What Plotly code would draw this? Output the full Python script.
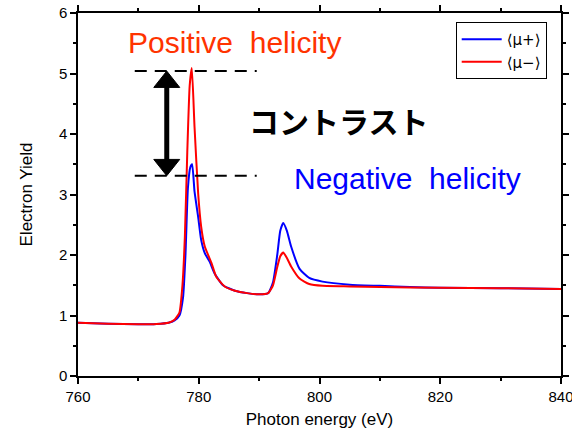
import plotly.graph_objects as go

# ---- data ----
energy_plus = [760, 765, 770, 773, 775, 776, 776.8, 777.4, 777.8, 778.2, 778.6, 778.9,
               779.3, 779.9, 780.4, 781.0, 781.8, 782.6, 784.0, 786.0, 788.0, 790.0,
               791.5, 792.3, 793.0, 793.5, 794.0, 794.6, 795.3, 796.7, 798.3, 800.5,
               805, 810, 815, 820, 830, 840]
yield_plus = [0.88, 0.865, 0.855, 0.86, 0.88, 0.92, 1.0, 1.3, 2.0, 3.1, 3.45, 3.50,
              3.05, 2.63, 2.25, 2.03, 1.89, 1.70, 1.50, 1.41, 1.37, 1.35,
              1.37, 1.55, 2.0, 2.4, 2.53, 2.40, 2.14, 1.77, 1.62, 1.56,
              1.51, 1.49, 1.47, 1.46, 1.45, 1.44]

energy_minus = [760, 765, 770, 773, 775, 776, 776.8, 777.3, 777.7, 778.1, 778.5, 778.85,
                779.3, 779.9, 780.4, 781.0, 782.1, 782.9, 784.3, 786.0, 788.0, 790.0,
                791.5, 792.3, 793.0, 793.5, 794.0, 794.6, 795.3, 796.7, 798.3, 800.5,
                805, 810, 820, 830, 840]
yield_minus = [0.88, 0.865, 0.855, 0.86, 0.88, 0.93, 1.05, 1.5, 2.3, 3.7, 4.8, 5.09,
               4.12, 3.02, 2.47, 2.14, 1.87, 1.64, 1.48, 1.41, 1.37, 1.35,
               1.37, 1.50, 1.80, 1.98, 2.04, 1.95, 1.81, 1.61, 1.52, 1.49,
               1.48, 1.47, 1.46, 1.45, 1.44]

series_names = ["⟨μ+⟩", "⟨μ−⟩"]
x_ticks = [760, 780, 800, 820, 840]
y_ticks = [0, 1, 2, 3, 4, 5, 6]

# contrast marker levels
level_hi = 5.04
level_lo = 3.31
dash_x = [769.4, 789.6]
arrow_x = 774.7

fig = go.Figure()
fig.add_trace(go.Scatter(x=energy_plus, y=yield_plus, mode="lines", name=series_names[0],
                         line=dict(color="#0000FF", width=2, shape="spline", smoothing=0.5)))
fig.add_trace(go.Scatter(x=energy_minus, y=yield_minus, mode="lines", name=series_names[1],
                         line=dict(color="#FF0000", width=2, shape="spline", smoothing=0.5)))

# dashed level lines
for lv in (level_hi, level_lo):
    fig.add_shape(type="line", x0=dash_x[0], x1=dash_x[1], y0=lv, y1=lv,
                  xref="x", yref="y", line=dict(color="black", width=2, dash="12px,8px"))

# double arrow
head_h = 0.27
head_w = 2.15
fig.add_shape(type="line", x0=arrow_x, x1=arrow_x, y0=level_lo + head_h * 0.9,
              y1=level_hi - head_h * 0.9, line=dict(color="black", width=5))
fig.add_shape(type="path",
              path=f"M {arrow_x} {level_hi} L {arrow_x - head_w} {level_hi - head_h} "
                   f"L {arrow_x + head_w} {level_hi - head_h} Z",
              fillcolor="black", line=dict(color="black", width=1))
fig.add_shape(type="path",
              path=f"M {arrow_x} {level_lo} L {arrow_x - head_w} {level_lo + head_h} "
                   f"L {arrow_x + head_w} {level_lo + head_h} Z",
              fillcolor="black", line=dict(color="black", width=1))

fig.add_annotation(x=785.95, y=5.52, text="Positive\u00a0 helicity", showarrow=False,
                   font=dict(family="Liberation Sans, Arial", size=30, color="#FF3300"))
fig.add_annotation(x=814.5, y=3.27, text="Negative\u00a0 helicity", showarrow=False,
                   font=dict(family="Liberation Sans, Arial", size=30, color="#0000FF"))
fig.add_annotation(x=803.1, y=4.23, text="<b>コントラスト</b>", showarrow=False,
                   font=dict(family="Noto Sans CJK JP", size=30, color="black"))

axis_common = dict(showline=True, linecolor="black", linewidth=1.5, mirror="ticks",
                   ticks="outside", ticklen=6, tickwidth=1.5, tickcolor="black",
                   showgrid=False, zeroline=False, automargin=False,
                   ticklabeloverflow="allow",
                   tickfont=dict(family="Liberation Sans, Arial", size=15, color="black"),
                   minor=dict(ticks="outside", ticklen=3, tickwidth=1.5, tickcolor="black"))

fig.update_layout(
    width=572, height=429,
    margin=dict(l=78, r=11, t=13, b=53),
    plot_bgcolor="white", paper_bgcolor="white",
    font=dict(family="Liberation Sans, Arial", color="black"),
    xaxis=dict(range=[760, 840], tickvals=x_ticks, **axis_common,
               title=dict(text="Photon energy (eV)", standoff=10,
                          font=dict(size=17, family="Liberation Sans, Arial"))),
    yaxis=dict(range=[0, 6], tickvals=y_ticks, **axis_common,
               title=dict(text="Electron Yield", standoff=22,
                          font=dict(size=17, family="Liberation Sans, Arial"))),
    legend=dict(x=0.782, y=0.975, xanchor="left", yanchor="top",
                bordercolor="black", borderwidth=1, bgcolor="white",
                font=dict(size=15, family="DejaVu Sans, Liberation Sans"),
                tracegroupgap=0, itemwidth=40),
    showlegend=True,
)
fig.update_xaxes(minor_tickvals=[770, 790, 810, 830])
fig.update_yaxes(minor_tickvals=[0.5, 1.5, 2.5, 3.5, 4.5, 5.5])

fig.write_html("out.html")
